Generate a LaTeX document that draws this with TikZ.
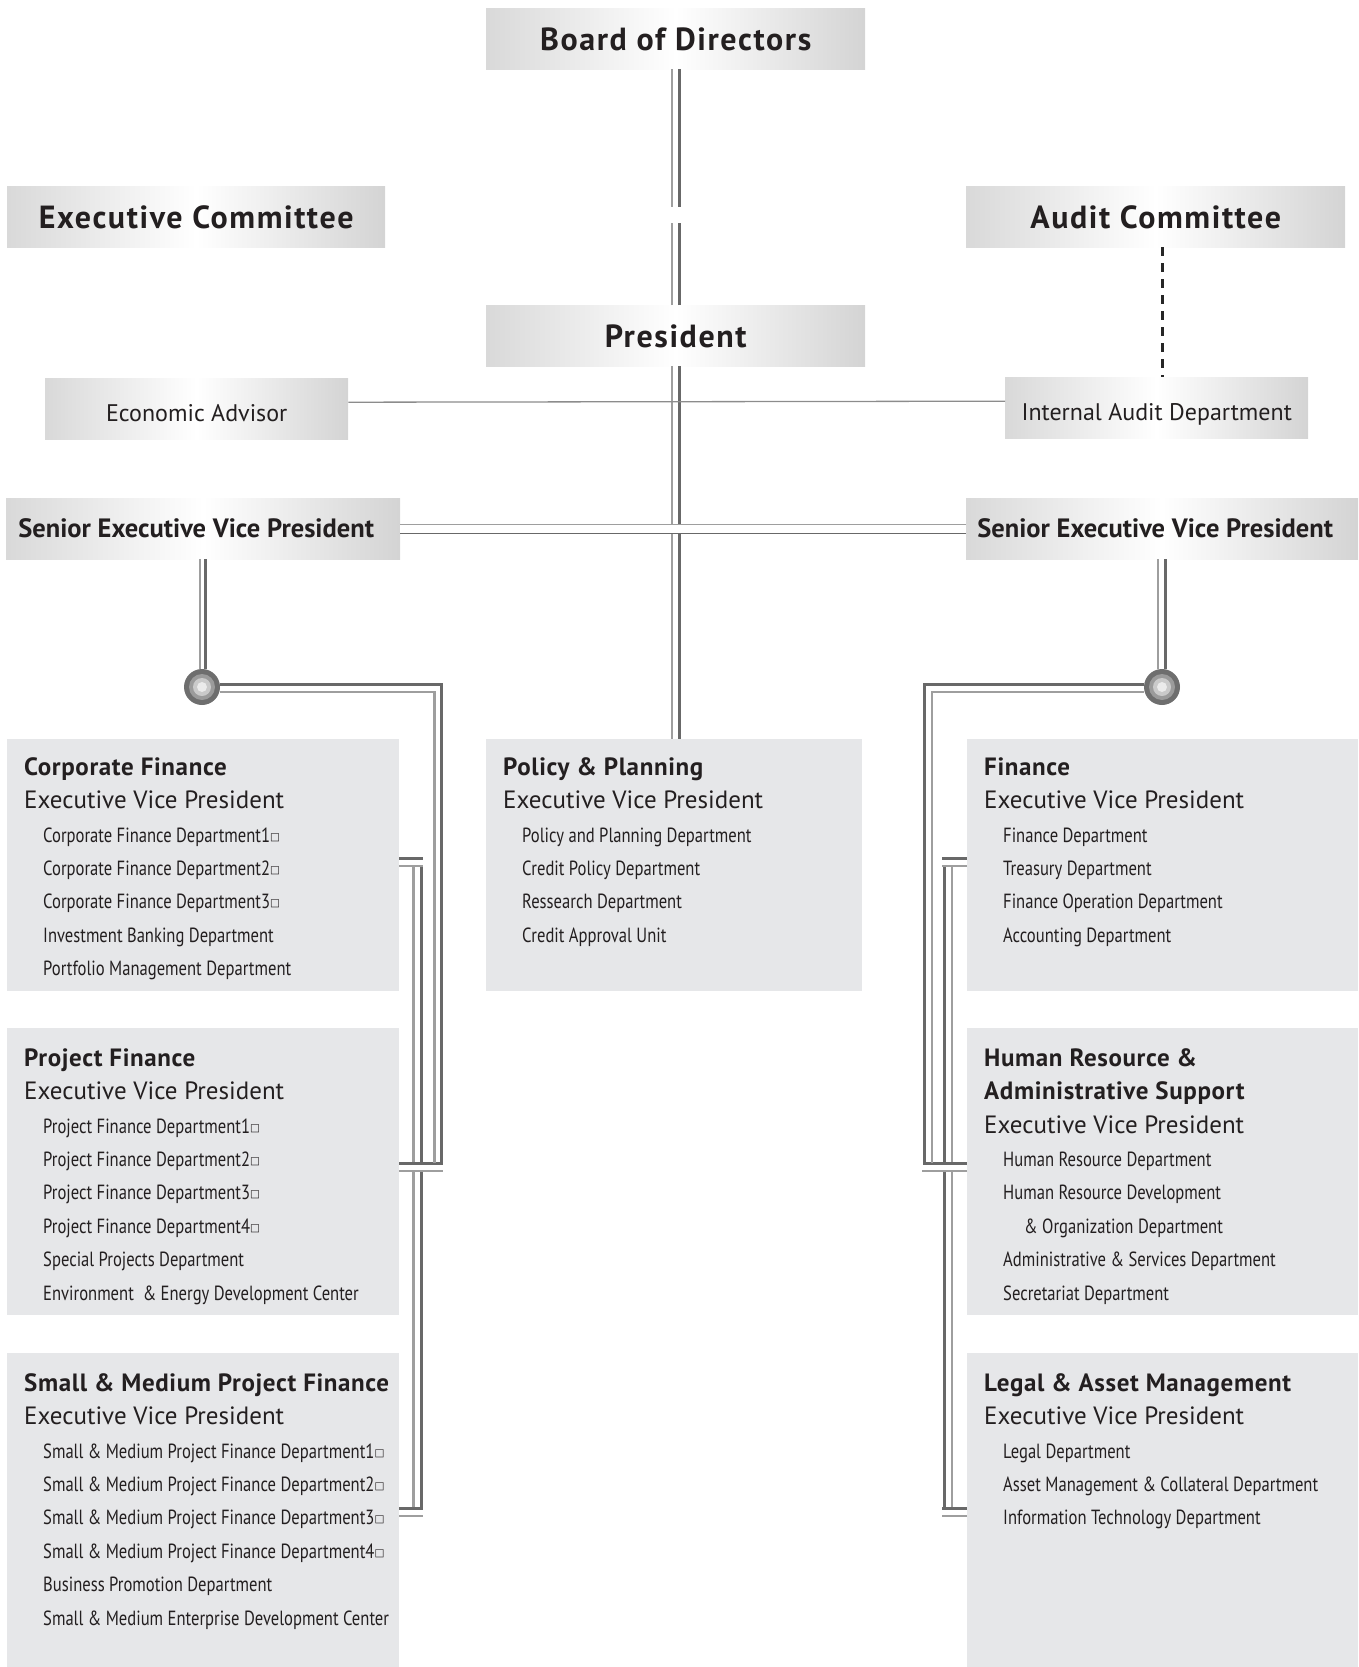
\documentclass[tikz,border=0pt]{standalone}
\usepackage{fontspec}
\setmainfont{PT Sans}
\newfontfamily\wideboldfont[LetterSpace=5]{PT Sans Bold}
\newfontfamily\headfont[LetterSpace=2.5]{PT Sans Bold}
\newfontfamily\condfont[FakeStretch=0.81]{PT Sans}
\newfontfamily\symfont{DejaVu Sans}
\usetikzlibrary{calc}

\definecolor{textcol}{RGB}{35,31,32}
\definecolor{deptgray}{RGB}{230,231,233}
\definecolor{dkline}{RGB}{104,104,104}
\definecolor{ltline}{RGB}{158,158,158}
\definecolor{dkring}{RGB}{110,110,110}
\definecolor{midring}{RGB}{155,155,155}
\definecolor{ltring}{RGB}{202,202,202}

\newcommand{\topfont}{\wideboldfont\fontsize{32}{34}\selectfont}
\newcommand{\advfont}{\fontsize{24}{26}\selectfont}
\newcommand{\sevpfont}{\fontsize{26.5}{28}\bfseries\selectfont}
\newcommand{\hdfont}{\headfont\fontsize{25}{33.4}\selectfont}
\newcommand{\evfont}{\fontsize{25}{33.4}\selectfont}
\newcommand{\sq}{{\symfont\fontsize{10.5}{10}\selectfont\raisebox{2pt}{□}}}
\newcommand{\dl}[1]{\hspace*{19pt}{\condfont\fontsize{20.5}{33.4}\selectfont #1}}
\newcommand{\deptbody}[4]{\parbox[c][#1][t]{#2}{\raggedright\setlength\leftskip{17pt}\fontsize{20}{33.4}\selectfont\rule{0pt}{#3}#4\par}}

\tikzset{
  topbox/.style={left color=black!15, right color=black!17, middle color=white,
    minimum height=61pt, inner sep=0pt, anchor=north west, text=textcol},
  bigtext/.style={font=\topfont, text height=24pt, text depth=0pt},
  advtext/.style={font=\advfont, text height=25pt, text depth=0pt},
  sevptext/.style={font=\sevpfont, text height=18pt, text depth=0pt},
  deptbox/.style={fill=deptgray, inner sep=0pt, anchor=north west, text=textcol},
  dk/.style={draw=dkline, line width=3pt},
  lt/.style={draw=ltline, line width=2.2pt},
  thinline/.style={draw=black!45, line width=1.3pt},
  dashline/.style={draw=black!85, line width=2.6pt, dash pattern=on 9pt off 7pt},
  junction/.style={circle, fill=dkring, minimum size=36pt, inner sep=0pt,
    path picture={
      \fill[midring] (path picture bounding box.center) circle (13pt);
      \fill[ltring] (path picture bounding box.center) circle (9pt);
      \fill[black!8] (path picture bounding box.center) circle (5pt);}}
}

\begin{document}
\begin{tikzpicture}[x=1pt,y=-1pt]
  \useasboundingbox (0,0) rectangle (1359,1667);

  %%%%% TOP BOXES %%%%%
  \node[topbox, minimum width=379pt, bigtext] (board) at (486,8) {Board of Directors};
  \node[topbox, minimum width=378pt, bigtext] (excom) at (7,186) {Executive Committee};
  \node[topbox, minimum width=379pt, bigtext] (audcom) at (966,186) {Audit Committee};
  \node[topbox, minimum width=379pt, bigtext] (pres) at (486,305) {President};
  \node[topbox, minimum width=303pt, advtext] (econ) at (45,378) {Economic Advisor};
  \node[topbox, minimum width=303pt, advtext] (iad) at (1005,377) {Internal Audit Department};
  \node[topbox, minimum width=394pt, sevptext] (sevpL) at (6,498) {Senior Executive Vice President\hspace*{14pt}};
  \node[topbox, minimum width=392pt, sevptext] (sevpR) at (966,498) {Senior Executive Vice President\hspace*{14pt}};

  %%%%% DEPARTMENT BOXES %%%%%
  \node[deptbox] (cf) at (7,739) {\deptbody{252pt}{392pt}{36pt}{%
    {\hdfont Corporate Finance}\\
    {\evfont Executive Vice President}\\
    \dl{Corporate Finance Department1\sq}\\
    \dl{Corporate Finance Department2\sq}\\
    \dl{Corporate Finance Department3\sq}\\
    \dl{Investment Banking Department}\\
    \dl{Portfolio Management Department}}};
  \node[deptbox] (pf) at (7,1028) {\deptbody{287pt}{392pt}{38pt}{%
    {\hdfont Project Finance}\\
    {\evfont Executive Vice President}\\
    \dl{Project Finance Department1\sq}\\
    \dl{Project Finance Department2\sq}\\
    \dl{Project Finance Department3\sq}\\
    \dl{Project Finance Department4\sq}\\
    \dl{Special Projects Department}\\
    \dl{Environment\ \ \& Energy Development Center}}};
  \node[deptbox] (smpf) at (7,1353) {\deptbody{314pt}{392pt}{38pt}{%
    {\hdfont Small \& Medium Project Finance}\\
    {\evfont Executive Vice President}\\
    \dl{Small \& Medium Project Finance Department1\sq}\\
    \dl{Small \& Medium Project Finance Department2\sq}\\
    \dl{Small \& Medium Project Finance Department3\sq}\\
    \dl{Small \& Medium Project Finance Department4\sq}\\
    \dl{Business Promotion Department}\\
    \dl{Small \& Medium Enterprise Development Center}}};
  \node[deptbox] (pp) at (486,739) {\deptbody{252pt}{376pt}{36pt}{%
    {\hdfont Policy \& Planning}\\
    {\evfont Executive Vice President}\\
    \dl{Policy and Planning Department}\\
    \dl{Credit Policy Department}\\
    \dl{Ressearch Department}\\
    \dl{Credit Approval Unit}}};
  \node[deptbox] (fin) at (967,739) {\deptbody{252pt}{391pt}{36pt}{%
    {\hdfont Finance}\\
    {\evfont Executive Vice President}\\
    \dl{Finance Department}\\
    \dl{Treasury Department}\\
    \dl{Finance Operation Department}\\
    \dl{Accounting Department}}};
  \node[deptbox] (hr) at (967,1028) {\deptbody{287pt}{391pt}{38pt}{%
    {\hdfont Human Resource \&}\\
    {\hdfont Administrative Support}\\
    {\evfont Executive Vice President}\\
    \dl{Human Resource Department}\\
    \dl{Human Resource Development}\\
    \dl{\hspace*{21pt}\& Organization Department}\\
    \dl{Administrative \& Services Department}\\
    \dl{Secretariat Department}}};
  \node[deptbox] (legal) at (967,1353) {\deptbody{314pt}{391pt}{38pt}{%
    {\hdfont Legal \& Asset Management}\\
    {\evfont Executive Vice President}\\
    \dl{Legal Department}\\
    \dl{Asset Management \& Collateral Department}\\
    \dl{Information Technology Department}}};

  \node[junction] (jL) at (202,687) {};
  \node[junction] (jR) at (1162,687) {};

  %%%%% TRUNK %%%%%
  \draw[lt] ($(board.south)+(-3.5,0)$) -- ++(0,138);
  \draw[dk] ($(board.south)+(3.5,0)$) -- ++(0,138);
  \draw[lt] ($(pres.north)+(-3.5,0)$) -- ++(0,-82);
  \draw[dk] ($(pres.north)+(3.5,0)$) -- ++(0,-82);
  \draw[lt] ($(pres.south)+(-3.5,0)$) -- ($(pres.south |- pp.north)+(-3.5,0)$);
  \draw[dk] ($(pres.south)+(3.5,0)$) -- ($(pres.south |- pp.north)+(3.5,0)$);

  \draw[thinline] ($(econ.east)+(0,-6.5)$) -- ($(iad.west)+(0,-6.5)$);
  \draw[dashline] ($(audcom.south)+(6.5,0)$) -- ($(audcom.south |- iad.north)+(6.5,0)$);

  \draw[white, line width=9pt] (sevpL.east) -- (sevpR.west);
  \draw[draw=ltline, line width=1.4pt] ($(sevpL.east)+(0,-4.5)$) -- ($(sevpR.west)+(0,-4.5)$);
  \draw[draw=dkline, line width=1.4pt] ($(sevpL.east)+(0,4.5)$) -- ($(sevpR.west)+(0,4.5)$);

  %%%%% LEFT BRACKETS %%%%%
  \draw[lt] ($(jL.north |- sevpL.south)+(-2,0)$) -- ($(jL.north)+(-2,0)$);
  \draw[dk] ($(jL.north |- sevpL.south)+(3.5,0)$) -- ($(jL.north)+(3.5,0)$);

  \draw[lt] ($(cf.east)+(14,1)$) -- ($(smpf.east)+(14,-2)$);
  \draw[dk] ($(cf.east)+(22,1)$) -- ($(smpf.east)+(22,-2)$);
  \draw[dk] ($(cf.east)+(0,-7)$) -- ++(24,0);
  \draw[lt] ($(cf.east)+(0,1)$) -- ++(24,0);
  \draw[dk] ($(smpf.east)+(0,-2)$) -- ++(24,0);
  \draw[lt] ($(smpf.east)+(0,6)$) -- ++(24,0);

  \fill[white] ($(pf.east)+(0,-6.5)$) rectangle ($(pf.east)+(44,-1.5)$);
  \draw[dk, line join=miter] ($(jL.east)+(0,-3)$) -| ($(pf.east)+(42,-8.5)$) -- ($(pf.east)+(0,-8.5)$);
  \draw[lt, line join=miter] ($(jL.east)+(0,5)$) -| ($(pf.east)+(35,-8.5)$);
  \draw[lt] ($(pf.east)+(0,-0.5)$) -- ++(44,0);

  %%%%% RIGHT BRACKETS %%%%%
  \draw[lt] ($(jR.north |- sevpR.south)+(-4,0)$) -- ($(jR.north)+(-4,0)$);
  \draw[dk] ($(jR.north |- sevpR.south)+(3,0)$) -- ($(jR.north)+(3,0)$);

  \draw[dk] ($(fin.west)+(-23,1)$) -- ($(legal.west)+(-23,-2)$);
  \draw[lt] ($(fin.west)+(-15,1)$) -- ($(legal.west)+(-15,-2)$);
  \draw[dk] ($(fin.west)+(0,-7)$) -- ++(-25,0);
  \draw[lt] ($(fin.west)+(0,1)$) -- ++(-25,0);
  \draw[dk] ($(legal.west)+(0,-2)$) -- ++(-25,0);
  \draw[lt] ($(legal.west)+(0,6)$) -- ++(-25,0);

  \fill[white] ($(hr.west)+(0,-6.5)$) rectangle ($(hr.west)+(-45,-1.5)$);
  \draw[dk, line join=miter] ($(jR.west)+(0,-3)$) -| ($(hr.west)+(-43,-8.5)$) -- ($(hr.west)+(0,-8.5)$);
  \draw[lt, line join=miter] ($(jR.west)+(0,5)$) -| ($(hr.west)+(-35,-8.5)$);
  \draw[lt] ($(hr.west)+(0,-0.5)$) -- ++(-45,0);
\end{tikzpicture}
\end{document}
